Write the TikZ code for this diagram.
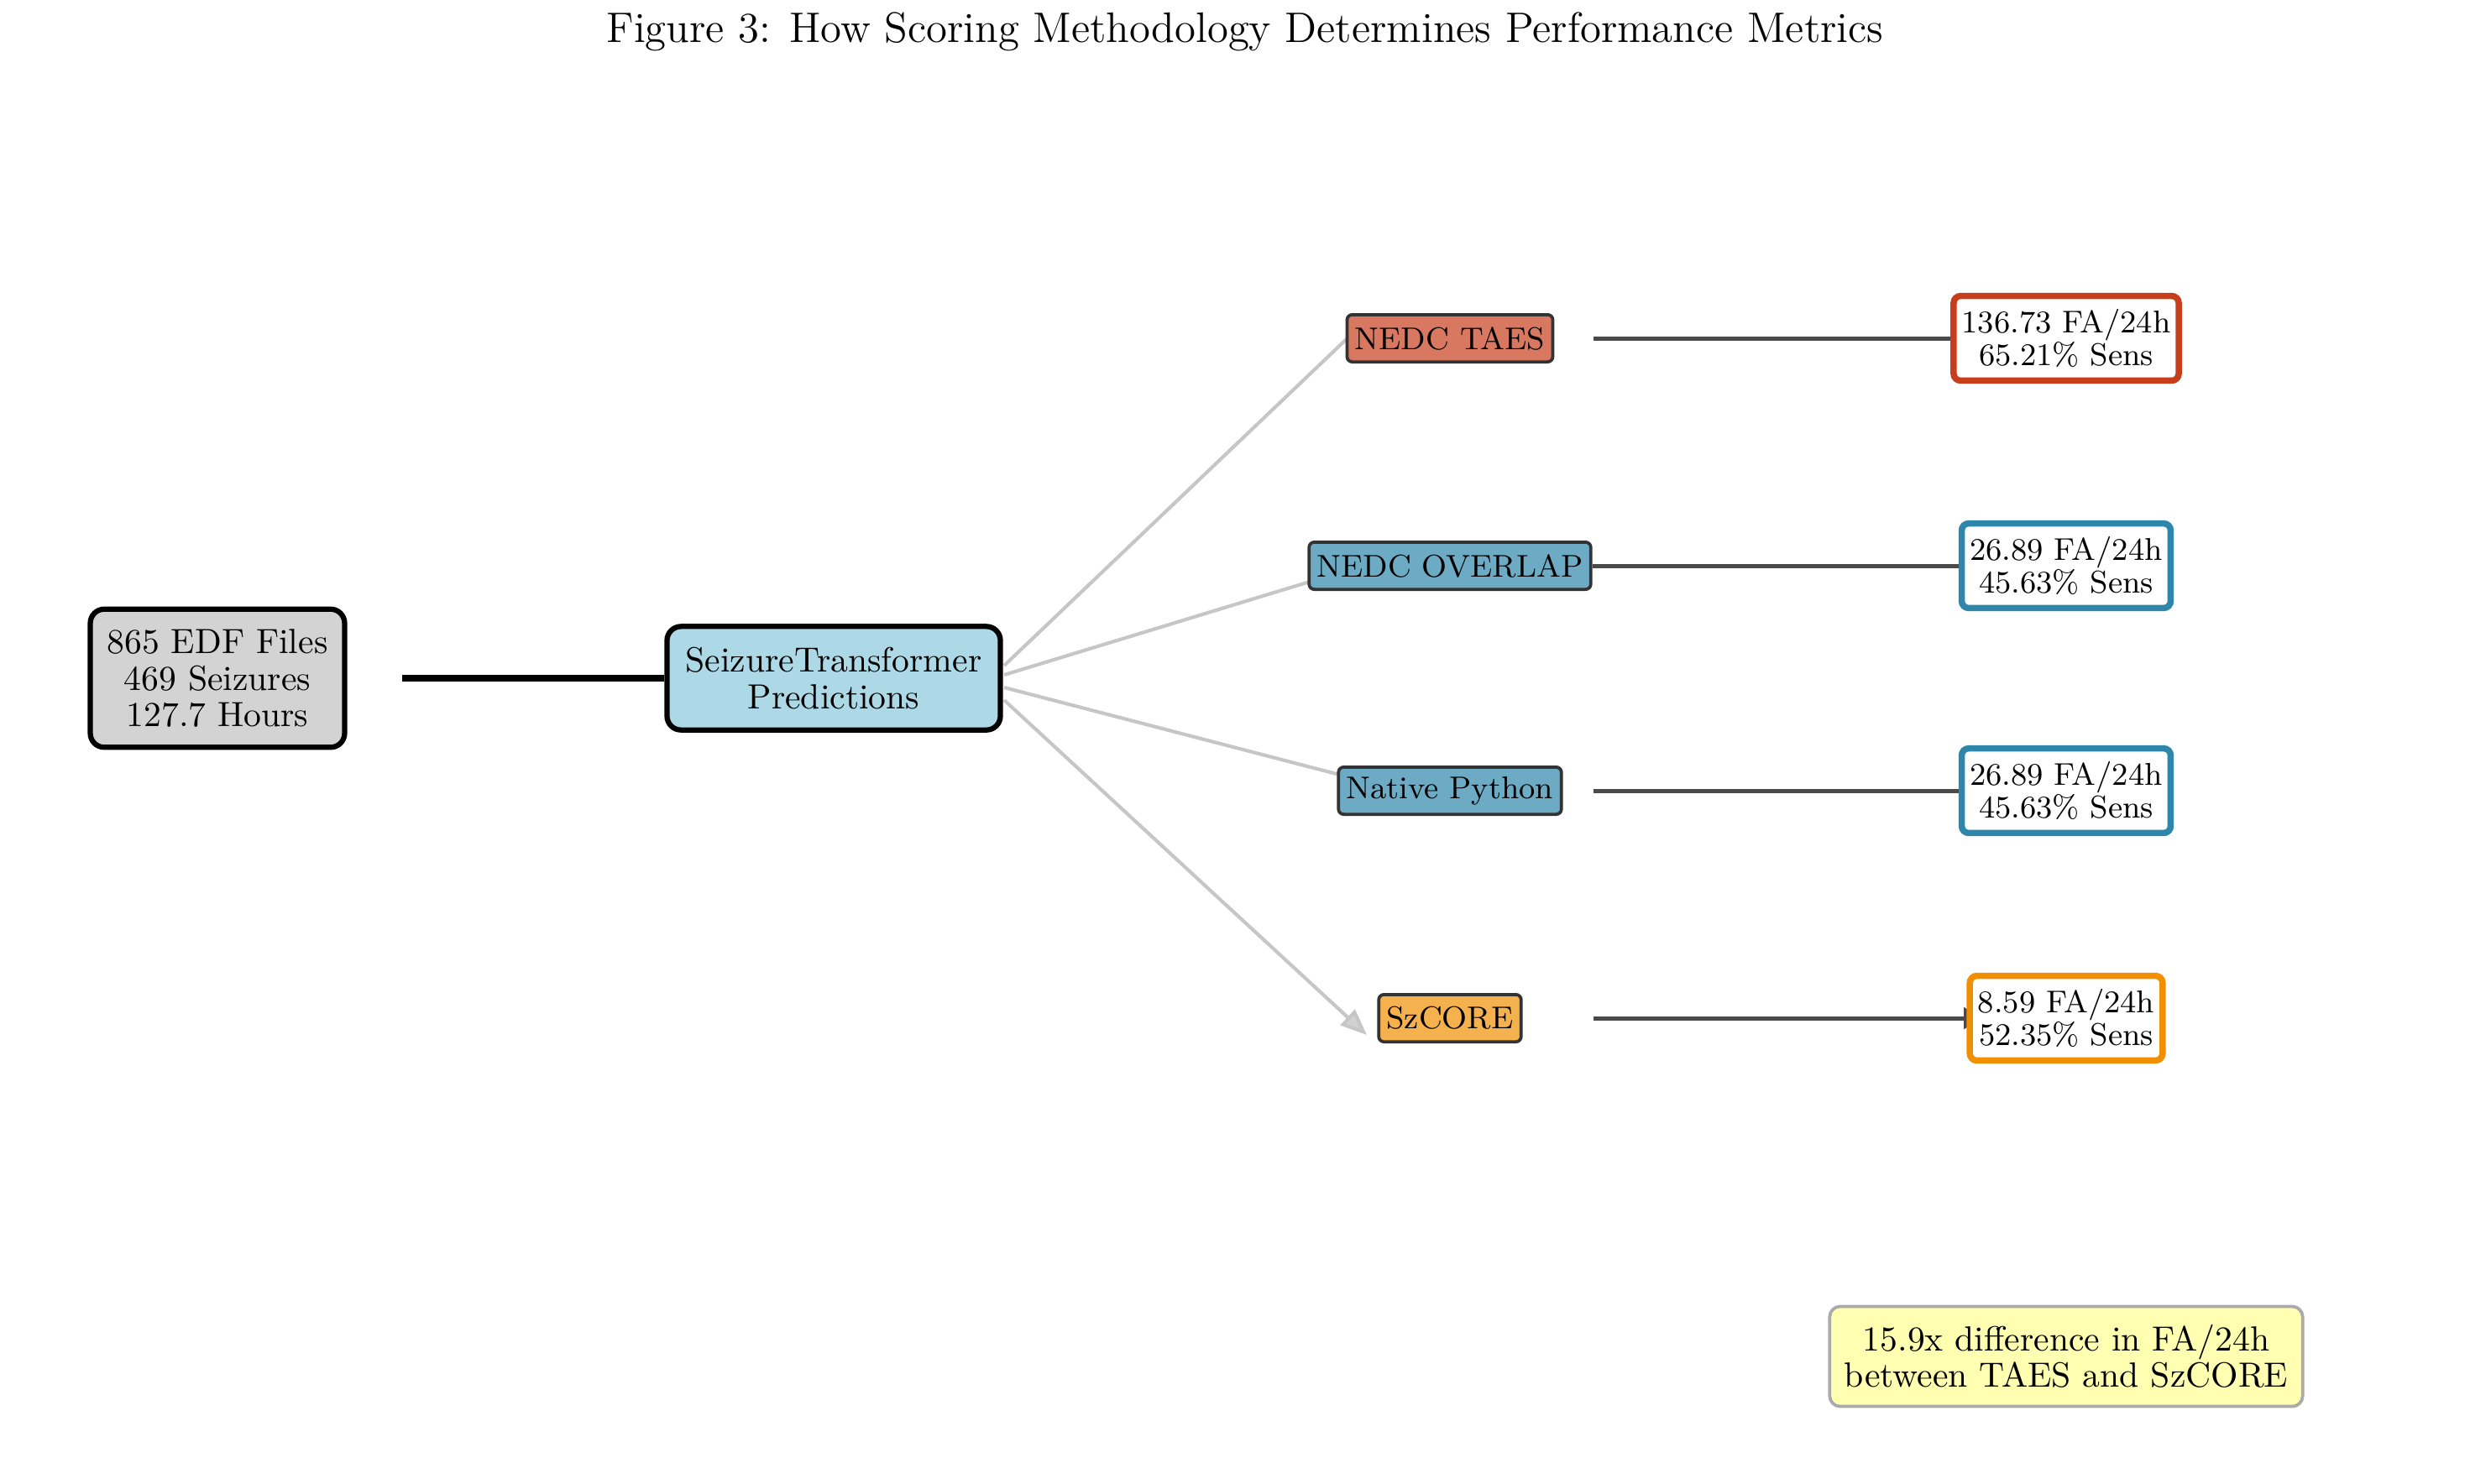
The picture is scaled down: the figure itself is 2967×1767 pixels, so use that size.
\documentclass[tikz,border=0pt]{standalone}
\usetikzlibrary{arrows.meta,backgrounds,calc}
\definecolor{taesc}{HTML}{C73E1D}
\definecolor{ovlc}{HTML}{2E86AB}
\definecolor{szc}{HTML}{F18F01}
\definecolor{taesf}{HTML}{D87861}
\definecolor{ovlf}{HTML}{6DAAC4}
\definecolor{szf}{HTML}{F5B14D}
\definecolor{srcf}{HTML}{D3D3D3}
\definecolor{predf}{HTML}{ADD8E6}
\definecolor{notef}{HTML}{FFFFB2}
\definecolor{noted}{HTML}{AAAAAA}
\definecolor{darkl}{HTML}{4A4A4A}
\definecolor{grayl}{HTML}{C6C6C6}
\definecolor{grayh}{HTML}{D2D2D2}
\definecolor{methodd}{HTML}{333333}
\tikzset{
  titletext/.style={font=\fontsize{12.2}{14}\selectfont, inner sep=0pt},
  bigbox/.style={draw=black, line width=1.5pt, rounded corners=4pt, align=center,
    font=\fontsize{10}{10.4}\selectfont, inner sep=0pt},
  method/.style={draw=methodd, line width=0.9pt, rounded corners=1.5pt, align=center,
    font=\fontsize{9}{10}\selectfont, inner xsep=2.25pt, inner ysep=0pt, minimum height=13.5pt},
  result/.style={fill=white, line width=1.8pt, rounded corners=2pt, align=center,
    font=\fontsize{9}{9.4}\selectfont, inner xsep=2.3pt, inner ysep=0pt, minimum height=24.2pt},
  notebox/.style={fill=notef, draw=noted, line width=0.9pt, rounded corners=3pt, align=center,
    font=\fontsize{10}{10.3}\selectfont, inner sep=0pt, minimum width=135.2pt, minimum height=28.6pt},
  feed/.style={draw=black, line width=2pt},
  fan/.style={draw=grayl, line width=1pt},
  fanhead/.style={fan, -{Triangle[length=7.5pt,width=6pt,fill=grayh]}},
  outline/.style={draw=darkl, line width=1.2pt, -{Triangle[length=5pt,width=6pt]}}
}
\begin{document}
\begin{tikzpicture}[x=0.24pt,y=-0.24pt]
\useasboundingbox (0,0) rectangle (2967,1767);

\node[titletext] (title) at (1483,38) {Figure 3: How Scoring Methodology Determines Performance Metrics};

\node[bigbox, fill=srcf, minimum width=72.7pt, minimum height=39.5pt] (src) at (259,808) {865 EDF Files\\469 Seizures\\127.7 Hours};
\node[bigbox, fill=predf, minimum width=95.3pt, minimum height=29.6pt] (pred) at (993,808) {SeizureTransformer\\Predictions};

\node[method, fill=taesf] (taes) at (1727,403) {NEDC TAES};
\node[method, fill=ovlf] (ovl) at (1727,674) {NEDC OVERLAP};
\node[method, fill=ovlf] (py) at (1727,942) {Native Python};
\node[method, fill=szf] (sz) at (1727,1213) {SzCORE};

\node[result, draw=taesc] (rtaes) at (2461,403) {136.73 FA/24h\\65.21\% Sens};
\node[result, draw=ovlc] (rovl) at (2461,674) {26.89 FA/24h\\45.63\% Sens};
\node[result, draw=ovlc] (rpy) at (2461,942) {26.89 FA/24h\\45.63\% Sens};
\node[result, draw=szc] (rsz) at (2461,1213) {8.59 FA/24h\\52.35\% Sens};

\node[notebox] (note) at (2461,1616) {15.9x difference in FA/24h\\between TAES and SzCORE};

% connector free ends
\coordinate (srcout) at (479,808);
\coordinate (f1) at (1196,793);
\coordinate (f2) at (1196,804);
\coordinate (f3) at (1196,819);
\coordinate (f4) at (1196,834);
\coordinate (t1) at (1630,379);
\coordinate (t2) at (1619,675);
\coordinate (t3) at (1638,934);
\coordinate (t4) at (1628,1233);
\coordinate (o1) at (1898,403);
\coordinate (o3) at (1898,942);
\coordinate (o4) at (1898,1213);
\coordinate (e1) at (2360,403);
\coordinate (e2) at (2360,674);
\coordinate (e3) at (2360,942);
\coordinate (e4) at (2360,1213);

\begin{scope}[on background layer]
  \draw[feed] (srcout) -- (pred.west);
  \draw[fan] (f1) -- (t1);
  \draw[fan] (f2) -- (t2);
  \draw[fan] (f3) -- (t3);
  \draw[fanhead] (f4) -- (t4);
  \draw[outline] (o1) -- (e1);
  \draw[outline] (ovl.east) -- (e2);
  \draw[outline] (o3) -- (e3);
  \draw[outline] (o4) -- (e4);
\end{scope}
\end{tikzpicture}
\end{document}
